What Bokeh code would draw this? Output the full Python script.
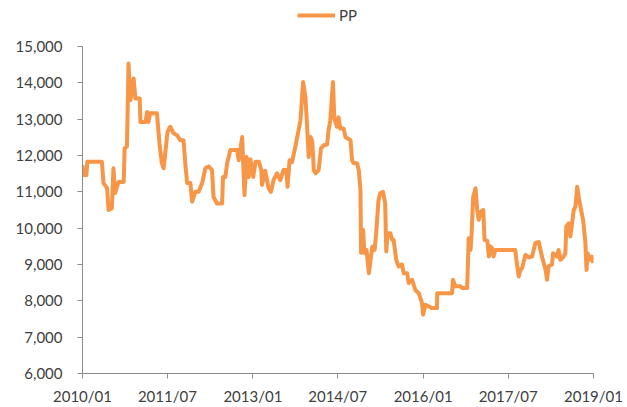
import pandas as pd
from bokeh.plotting import figure
from bokeh.layouts import column
from bokeh.models import (Range1d, FixedTicker, DatetimeTickFormatter, NumeralTickFormatter,
                          Legend, LegendItem, ColumnDataSource)
from bokeh.embed import file_html
from bokeh.resources import INLINE

series_name = "PP"
dates = [
    "2010-01-01", "2010-01-09", "2010-01-26", "2010-02-01", "2010-05-06", "2010-05-16", "2010-06-08",
    "2010-06-18", "2010-07-09", "2010-07-19", "2010-07-30", "2010-08-21", "2010-09-23", "2010-09-29",
    "2010-10-14", "2010-10-24", "2010-11-05", "2010-11-26", "2010-12-07", "2011-01-04", "2011-01-09",
    "2011-02-10", "2011-02-21", "2011-03-01", "2011-03-12", "2011-04-25", "2011-05-11", "2011-05-26",
    "2011-06-07", "2011-07-02", "2011-07-19", "2011-08-10", "2011-09-01", "2011-09-22", "2011-10-13",
    "2011-10-24", "2011-11-05", "2011-11-26", "2011-12-07", "2011-12-28", "2012-01-18", "2012-02-10",
    "2012-03-01", "2012-03-22", "2012-04-13", "2012-04-23", "2012-05-15", "2012-06-17", "2012-06-23",
    "2012-07-08", "2012-07-19", "2012-08-09", "2012-09-22", "2012-10-02", "2012-10-24", "2012-10-30",
    "2012-11-08", "2012-11-21", "2012-12-05", "2012-12-16", "2013-01-03", "2013-01-18", "2013-02-09",
    "2013-02-24", "2013-03-01", "2013-03-21", "2013-04-12", "2013-04-27", "2013-05-14", "2013-06-05",
    "2013-06-26", "2013-07-17", "2013-08-04", "2013-08-12", "2013-08-25", "2013-09-10", "2013-10-01",
    "2013-10-22", "2013-11-03", "2013-11-20", "2013-12-05", "2013-12-16", "2013-12-26", "2014-01-07",
    "2014-01-18", "2014-01-28", "2014-02-08", "2014-02-28", "2014-03-15", "2014-04-01", "2014-04-23",
    "2014-05-03", "2014-05-14", "2014-05-31", "2014-06-09", "2014-06-26", "2014-07-06", "2014-07-17",
    "2014-08-08", "2014-08-19", "2014-09-21", "2014-10-01", "2014-10-11", "2014-11-02", "2014-11-13",
    "2014-11-24", "2014-11-28", "2014-12-11", "2014-12-19", "2015-01-02", "2015-01-17", "2015-01-28",
    "2015-02-08", "2015-02-23", "2015-03-05", "2015-03-20", "2015-03-31", "2015-04-18", "2015-05-02",
    "2015-05-09", "2015-05-17", "2015-06-04", "2015-06-15", "2015-06-25", "2015-07-12", "2015-07-27",
    "2015-08-18", "2015-08-29", "2015-09-20", "2015-09-30", "2015-10-22", "2015-11-12", "2015-12-04",
    "2015-12-25", "2016-01-01", "2016-01-16", "2016-02-28", "2016-03-30", "2016-04-01", "2016-07-05",
    "2016-07-11", "2016-07-26", "2016-08-28", "2016-09-08", "2016-10-10", "2016-10-14", "2016-10-20",
    "2016-11-01", "2016-11-07", "2016-11-18", "2016-12-03", "2016-12-14", "2016-12-24", "2017-01-05",
    "2017-01-22", "2017-01-30", "2017-02-17", "2017-02-27", "2017-03-08", "2017-03-19", "2017-03-29",
    "2017-04-10", "2017-08-16", "2017-08-23", "2017-09-07", "2017-09-18", "2017-09-29", "2017-10-20",
    "2017-11-11", "2017-12-02", "2017-12-23", "2018-01-14", "2018-01-25", "2018-02-06", "2018-02-27",
    "2018-03-08", "2018-03-18", "2018-04-09", "2018-04-16", "2018-05-11", "2018-05-21", "2018-06-02",
    "2018-06-23", "2018-07-04", "2018-07-10", "2018-07-25", "2018-08-05", "2018-08-16", "2018-08-27",
    "2018-09-07", "2018-09-18", "2018-09-28", "2018-10-13", "2018-10-26", "2018-11-10", "2018-11-17",
    "2018-11-25", "2018-12-08", "2018-12-23", "2018-12-30",
]
values = [
    11730, 11460, 11460, 11825, 11825, 11240, 11100,
    10500, 10550, 11650, 10970, 11270, 11270, 12200,
    12250, 14530, 13520, 14120, 13570, 13570, 12920,
    12920, 13200, 12920, 13160, 13160, 12340, 11790,
    11650, 12650, 12790, 12610, 12560, 12420, 12420,
    11790, 11240, 11240, 10730, 11000, 11000, 11240,
    11650, 11700, 11600, 10860, 10680, 10680, 11410,
    11410, 11780, 12150, 12150, 11870, 12510, 11870,
    10910, 11960, 11410, 11900, 11410, 11830, 11830,
    11600, 11190, 11580, 11100, 11000, 11320, 11510,
    11320, 11600, 11600, 11140, 11870, 11820, 12240,
    12700, 12970, 14020, 13610, 12790, 11960, 12510,
    12400, 11600, 11510, 11600, 12190, 12280, 12300,
    12700, 12970, 14020, 13020, 12790, 13050, 12740,
    12740, 12510, 12420, 11870, 11790, 11790, 11600,
    11050, 9320, 9950, 9320, 9400, 8760, 9130,
    9490, 9400, 9860, 10770, 10960, 11000, 10680,
    9360, 9860, 9860, 9680, 9680, 9130, 8950,
    9000, 8760, 8760, 8490, 8580, 8300, 8210,
    7940, 7620, 7890, 7800, 7800, 8210, 8210,
    8580, 8400, 8400, 8350, 8350, 8850, 9720,
    9400, 9770, 10860, 11100, 10500, 10230, 10450,
    10500, 9680, 9650, 9220, 9500, 9450, 9220,
    9400, 9400, 9130, 8670, 8850, 8900, 9260,
    9200, 9220, 9590, 9620, 9400, 9180, 8850,
    8580, 8950, 9000, 9310, 9220, 9400, 9130,
    9220, 9310, 10040, 10130, 9770, 10130, 10500,
    10590, 11140, 10860, 10500, 10230, 9590, 8850,
    9310, 9130, 9220, 9040,
]
x_tick_labels = ["2010/01", "2011/07", "2013/01", "2014/07", "2016/01", "2017/07", "2019/01"]
y_ticks = [6000, 7000, 8000, 9000, 10000, 11000, 12000, 13000, 14000, 15000]

FONT = "Lato"
TEXT = "#404040"
AXIS = "#8c8c8c"
ORANGE = "#F79646"
LW = 4

src = ColumnDataSource(dict(x=pd.to_datetime(dates), y=values))
tick_dt = pd.to_datetime([s.replace("/", "-") + "-01" for s in x_tick_labels])
tick_ms = [t.value / 1e6 for t in tick_dt]
xr = Range1d(tick_ms[0], tick_ms[-1])

# legend strip on top (its frame is aligned with the main plot's frame by the column)
lg = figure(width=627, height=30, x_axis_type="datetime", output_backend="svg",
            toolbar_location=None, x_axis_location=None, y_axis_location=None,
            min_border=0, x_range=xr, y_range=Range1d(0, 1))
lg.outline_line_color = None
lg.xgrid.visible = False
lg.ygrid.visible = False
lr = lg.line("x", "y", source=src, line_color=ORANGE, line_width=LW)
legend = Legend(items=[LegendItem(label=series_name, renderers=[lr])],
                location=(215, 5), orientation="horizontal",
                border_line_color=None, background_fill_alpha=0,
                padding=0, margin=0, spacing=0,
                glyph_width=38, glyph_height=20, label_standoff=4,
                label_text_font=FONT, label_text_font_size="15px",
                label_text_color=TEXT)
lg.add_layout(legend, "center")

p = figure(width=627, height=377, x_axis_type="datetime", output_backend="svg",
           toolbar_location=None, min_border_left=82, min_border_right=34,
           min_border_top=16, min_border_bottom=33, x_range=xr)
p.y_range = Range1d(y_ticks[0], y_ticks[-1])
p.outline_line_color = None
p.xgrid.visible = False
p.ygrid.visible = False

r = p.line("x", "y", source=src, line_color=ORANGE, line_width=LW, line_join="round")

for ax in (p.xaxis[0], p.yaxis[0]):
    ax.axis_line_color = AXIS
    ax.major_tick_line_color = AXIS
    ax.major_tick_out = 5
    ax.major_tick_in = 0
    ax.minor_tick_line_color = None
    ax.major_label_text_font = FONT
    ax.major_label_text_font_size = "15px"
    ax.major_label_text_color = TEXT

p.xaxis.ticker = FixedTicker(ticks=tick_ms)
fmt = "%Y/%m"
p.xaxis.formatter = DatetimeTickFormatter(days=fmt, months=fmt, years=fmt, hours=fmt)
p.xaxis.major_label_standoff = 8
p.yaxis.ticker = FixedTicker(ticks=y_ticks)
p.yaxis.formatter = NumeralTickFormatter(format="0,0")
p.yaxis.major_label_standoff = 15

layout = column(lg, p, spacing=0)
open("out.html", "w").write(file_html(layout, INLINE))
